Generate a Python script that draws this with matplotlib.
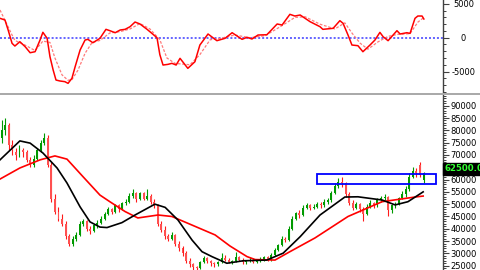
import numpy as np
import matplotlib
matplotlib.use('Agg')
import matplotlib.pyplot as plt
from matplotlib.patches import Rectangle
from matplotlib.lines import Line2D

plt.rcParams['font.family'] = 'DejaVu Sans'

# daily candles, prices in thousands (won)
opens = [77, 80, 82, 74, 71, 70, 72, 71, 68, 66, 68.5, 72, 75, 77, 66, 52, 47, 44, 42, 37,
         34, 36, 37.5, 42, 43, 40, 39, 41.5, 42.5, 44, 46, 48, 47, 49.5, 48, 50.5, 51, 53.5, 54.5, 52,
         54.5, 52, 53.5, 51, 49.5, 42, 39.5, 37, 36, 37.5, 34, 32, 30, 27, 25.5, 24.5, 24, 26.5, 28, 27,
         26, 25.5, 26.5, 28, 27.5, 26.5, 27, 28.5, 27.5, 26.5, 27, 27.5, 26.5, 27, 27.5, 28.5, 27.5, 29.5, 31.5, 33.5,
         36, 35.5, 40, 44, 46.5, 45.5, 48.5, 49.5, 48.5, 49, 50, 49.5, 51, 51.5, 54.5, 57.5, 59, 58.5, 54, 50.5,
         48.5, 50, 48, 46, 49, 50.5, 49.5, 51.5, 52.5, 53, 47.5, 49.5, 50, 52.5, 54, 56, 61, 63.5, 66, 60]
highs = [84, 85, 83, 76, 73, 74, 73, 72, 69, 70, 73, 76, 79, 78, 67, 54, 49, 46, 43, 38,
         37, 38.5, 43, 44, 43.5, 41, 42, 43.5, 45, 47, 49, 48.5, 50, 50, 51, 52, 54.5, 56, 55, 55,
         55, 56, 54, 52, 50, 43, 41, 38, 38.5, 38, 35, 33, 31, 28, 26, 25, 27, 29, 28.5, 27.5,
         26.5, 27, 30, 29.5, 28, 27.5, 30.5, 29, 28, 27.5, 28.5, 28, 27.5, 28.5, 29, 29, 30, 32, 34, 37,
         36.5, 41, 45, 47, 47.5, 49.5, 50.5, 50, 50, 51, 51, 52, 52.5, 55.5, 58.5, 60.5, 61, 59, 55, 51.5,
         51, 50.5, 49, 50, 51.5, 51, 52.5, 53.5, 54, 53.5, 50, 51, 53, 55.5, 57.5, 62.5, 65, 64.5, 67, 63]
lows = [75, 78, 72, 70, 68, 69, 69, 67, 65, 65, 68, 71, 74, 65, 51, 46, 43, 41, 36, 33,
        33, 35, 37, 41, 39, 38, 38.5, 40.5, 42, 43.5, 45.5, 46, 46.5, 47, 47.5, 49.5, 50.5, 52.5, 51, 51.5,
        51.5, 51.5, 50, 48.5, 41, 38.5, 36, 35, 35.5, 33, 31, 29, 26, 24.5, 23, 22.5, 23.5, 26, 26, 25,
        24.5, 25, 26, 27, 26, 25.5, 26.5, 27, 25.5, 25.5, 26.5, 26, 26, 26.5, 27, 27, 27, 29, 31, 33,
        34.5, 35, 39.5, 43.5, 44.5, 45, 48, 47.5, 48, 48.5, 48.5, 49, 50, 51, 54, 56.5, 57, 53, 49.5, 47.5,
        48, 47, 43, 45.5, 48.5, 48.5, 49, 51, 51.5, 45, 46.5, 48.5, 49.5, 52, 53, 55.5, 60.5, 61, 61, 58.5]
closes = [80, 82, 74, 72, 70, 72, 71, 68, 66, 68.5, 72, 75, 77, 66, 52, 47, 44, 42, 37, 34,
          36, 37.5, 42, 43, 40, 39, 41.5, 42.5, 44, 46, 48, 47, 49.5, 48, 50.5, 51, 53.5, 54.5, 52, 54.5,
          52, 53.5, 51, 49.5, 42, 39.5, 37, 36, 37.5, 34, 32, 30, 27, 25.5, 24.5, 24, 26.5, 28, 27, 26,
          25.5, 26.5, 28, 27.5, 26.5, 27, 28.5, 27.5, 26.5, 27, 27.5, 26.5, 27, 27.5, 28.5, 27.5, 29.5, 31.5, 33.5, 36,
          35.5, 40, 44, 46.5, 45.5, 48.5, 49.5, 48.5, 49, 50, 49.5, 51, 51.5, 54.5, 57.5, 59, 58.5, 54, 50.5, 48.5,
          50, 48, 46, 49, 50.5, 49.5, 51.5, 52.5, 53, 47.5, 49.5, 50, 52.5, 54, 56, 61, 63.5, 62.5, 62, 62.5]

# moving averages (bar position, value in thousands)
ma_short_pos = [-0.5, 5.1, 8.0, 11.6, 15.6, 18.4, 22.1, 24.9, 27.7, 29.7, 33.9, 37.6, 43.2, 46.1, 49.7,
                53.7, 56.5, 59.3, 63.5, 68.1, 74.8, 79.4, 84.2, 89.8, 96.8, 100.5, 107.3, 111.0, 114.6, 118.9]
ma_short = [68, 75.7, 74.8, 70.8, 64.7, 58.6, 48.9, 42.8, 40.7, 40.5, 42.5, 45.6, 50, 48.7, 43.6,
            35.4, 30.7, 28.7, 26, 27, 27.3, 30.1, 36.8, 45.6, 52.9, 53, 51.7, 49.7, 51, 55]
ma_long_pos = [-0.5, 5.1, 10.8, 15.0, 18.4, 22.9, 27.7, 30.5, 34.8, 38.4, 44.1, 48.0, 53.7, 60.2, 64.4,
               69.2, 71.5, 77.1, 81.3, 88.4, 97.7, 107.3, 116.6, 118.9]
ma_long = [60.2, 64.7, 68, 69.6, 68.3, 61.2, 53.7, 51, 47, 44.4, 45.6, 45, 41.5, 37.5, 33,
           28.7, 27.5, 27.3, 30.7, 36.3, 45, 51, 52.9, 53.3]

# MACD and signal
macd_pos = [-0.5, 0.9, 1.8, 2.9, 3.7, 5.1, 6.6, 8.0, 9.4, 10.8, 11.6, 12.8, 13.6, 14.5, 15.3, 16.4, 17.8,
            18.7, 19.8, 20.7, 22.1, 23.5, 24.3, 25.7, 27.7, 29.4, 30.5, 32.0, 33.4, 34.8, 36.2, 37.6, 39.0,
            41.0, 41.8, 43.8, 44.6, 45.5, 46.9, 48.0, 49.2, 50.3, 52.5, 54.5, 55.9, 58.2, 60.7, 63.0, 65.0,
            67.8, 69.2, 70.6, 72.3, 74.8, 77.7, 79.1, 81.3, 82.7, 84.2, 87.0, 89.8, 90.6, 93.5, 95.4, 96.3,
            97.7, 98.8, 100.5, 101.9, 103.9, 105.3, 106.7, 107.6, 109.0, 111.5, 112.4, 114.3, 115.2, 116.6,
            117.4, 118.6, 119.1]
macd = [2870, 2620, 1140, -830, -1230, -590, -1330, -2220, -2070, -340, 800, -90, -2810, -4780, -6260, -6400, -6500,
        -6750, -6000, -4290, -1820, -340, -240, -740, -90, 1240, 1040, 740, 1140, 1240, 1630, 2320, 2030,
        1240, 890, 0, -2500, -4040, -3940, -3790, -4040, -3050, -4530, -3550, -1080, 550, -440, -90, 740,
        -240, 60, -190, 400, 440, 2030, 1880, 3460, 3210, 3360, 2370, 1630, 1240, 1390, 2520, 2130,
        400, -1080, -1180, -2070, -1080, -340, 790, 150, -440, 1040, 550, 740, 640, 2870,
        3210, 3210, 2770]
signal_pos = [-0.5, 2.9, 3.7, 6.6, 9.4, 11.6, 13.6, 15.0, 17.0, 18.7, 19.8, 21.5, 23.5, 25.5, 27.7, 30.5,
              33.4, 36.2, 39.0, 41.8, 44.6, 46.6, 48.9, 53.1, 55.9, 58.8, 61.6, 65.8, 70.0, 74.3, 78.5,
              82.7, 85.6, 89.8, 94.0, 96.8, 98.8, 101.1, 103.3, 106.2, 109.0, 111.8, 115.2, 117.4, 119.1]
signal = [4100, 400, -400, -1100, -1900, -500, -700, -3000, -5500, -6300, -6200, -4800, -2300, -700, -400, 700,
          900, 1300, 2100, 1300, -300, -3000, -3800, -4000, -2500, -300, -100, 400, 0, 300, 1600,
          3000, 3100, 2000, 1300, 2200, 700, -800, -1700, -600, 200, 500, 600, 2300, 3000]

# resistance zone drawn on the chart
zone_bars = [88.9, 122.5]
zone_prices = [58100, 62100]

o = np.array(opens) * 1000
h = np.array(highs) * 1000
l = np.array(lows) * 1000
c = np.array(closes) * 1000
x = np.arange(len(c))
up = c >= o

fig = plt.figure(figsize=(4.8, 2.7), dpi=100)
ax1 = fig.add_axes([0, 178 / 270, 443 / 480, 92 / 270])
ax2 = fig.add_axes([0, 0, 443 / 480, 175 / 270])

green = '#009a00'
red = '#ff1a1a'

# price panel
ax2.vlines(x[up], l[up], h[up], color=green, lw=0.8, zorder=2)
ax2.vlines(x[~up], l[~up], h[~up], color=red, lw=0.8, zorder=2)
ax2.bar(x[up], c[up] - o[up], bottom=o[up], width=0.55, color=green, zorder=2)
ax2.bar(x[~up], c[~up] - o[~up], bottom=o[~up], width=0.55, color='#ff5050', zorder=2)
ax2.plot(ma_long_pos, np.array(ma_long) * 1000, color='#ff0000', lw=1.2, zorder=3)
ax2.plot(ma_short_pos, np.array(ma_short) * 1000, color='black', lw=1.2, zorder=4)
ax2.add_patch(Rectangle((zone_bars[0], zone_prices[0]), zone_bars[1] - zone_bars[0],
                        zone_prices[1] - zone_prices[0], fill=False, edgecolor='#0000ff', lw=1.3, zorder=5))
ax2.set_xlim(-0.5, 124.5)
ax2.set_ylim(23260, 94350)
ax2.set_yticks(np.arange(25000, 90001, 5000))
ax2.set_yticks(np.arange(24000, 94001, 1000), minor=True)
ax2.set_yticklabels([str(v) for v in range(25000, 90001, 5000)])
ax2.text(1.003, c[-1], '%.2f' % c[-1], transform=ax2.get_yaxis_transform(), color='#33ff33',
         fontsize=6.2, fontweight='bold', va='bottom', ha='left', clip_on=False, zorder=20,
         bbox=dict(facecolor='black', edgecolor='black', pad=0.8))

# MACD panel
ax1.axhline(0, color='#3a3aff', lw=1.1, linestyle=(0, (1.3, 1.3)), zorder=1)
ax1.plot(signal_pos, signal, color='#ff7a7a', lw=0.9, linestyle=(0, (2.2, 1.3)), zorder=2)
ax1.plot(macd_pos, macd, color='#ff0000', lw=1.1, zorder=3)
ax1.set_xlim(-0.5, 124.5)
ax1.set_ylim(-8030, 5580)
ax1.set_yticks([-5000, 0, 5000])
ax1.set_yticks(np.arange(-8000, 5001, 1000), minor=True)
ax1.set_yticklabels(['-5000', '0', '5000'])

for ax in (ax1, ax2):
    ax.set_facecolor('white')
    for s in ('top', 'left', 'bottom'):
        ax.spines[s].set_visible(False)
    ax.spines['right'].set_color('#404040')
    ax.spines['right'].set_linewidth(1.0)
    ax.set_xticks([])
    ax.yaxis.tick_right()
    ax.tick_params(axis='y', which='major', length=4.3, width=0.8, color='#404040',
                   labelsize=6, pad=10.5)
    ax.tick_params(axis='y', which='minor', length=2.2, width=0.7, color='#404040')
    for lab in ax.get_yticklabels():
        lab.set_horizontalalignment('center')

fig.add_artist(Line2D([0, 1], [1 - 93.8 / 270, 1 - 93.8 / 270], transform=fig.transFigure,
                      color='#a8a8a8', lw=1.4))

fig.savefig('out.png', dpi=100)
